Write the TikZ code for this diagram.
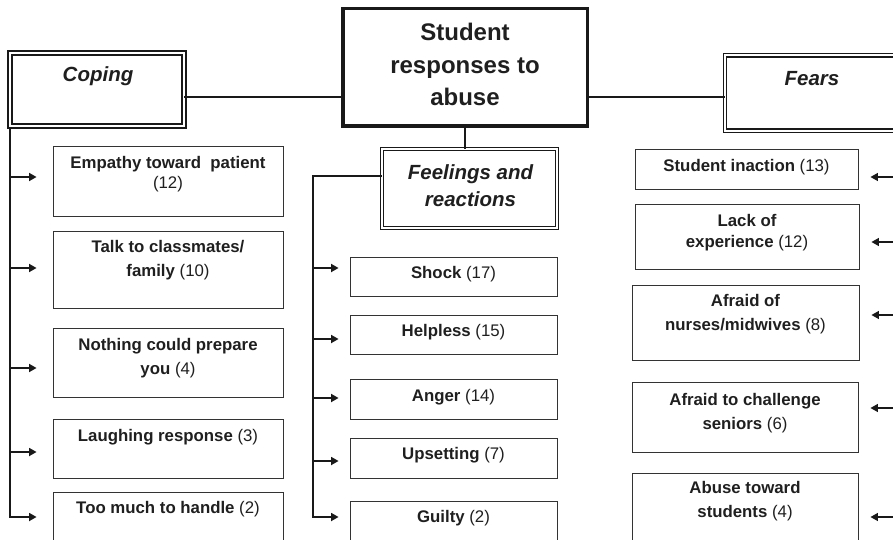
\documentclass[tikz,border=0pt]{standalone}
\usepackage{fontspec}
\setmainfont{Liberation Sans}
\usetikzlibrary{arrows.meta}

\newcommand{\cnt}[1]{{\mdseries(#1)}}

\tikzset{
  catbox/.style={draw=black!80, line width=0.9pt, inner sep=0pt},
  cattext/.style={font=\bfseries\fontsize{16.8}{24}\selectfont, align=center, text=black!88, inner sep=0pt},
  mainbox/.style={draw=black!90, line width=3.5pt, inner sep=0pt},
  maintext/.style={font=\bfseries\fontsize{24}{32.5}\selectfont, align=center, text=black!88, inner sep=0pt},
  themebox/.style={draw=black!90, double, double distance=2.5pt, line width=1.6pt, inner sep=0pt},
  themetext/.style={font=\bfseries\itshape\fontsize{20.5}{27}\selectfont, align=center, text=black!88, inner sep=0pt},
  conn/.style={line width=1.7pt, draw=black!90, line cap=rect},
  arr/.style={conn, -{Triangle[length=7.5pt,width=8pt]}},
}

\begin{document}
\begin{tikzpicture}[x=1pt, y=-1pt]
\useasboundingbox (0,0) rectangle (893,540);
\clip (0,0) rectangle (893,540);

% central node and the three themes
\node[mainbox, minimum width=244.5pt, minimum height=117.5pt] (central) at (465,67.5) {};
\node[maintext] (central-t) at (465,64.5) {Student\\responses to\\abuse};

\node[themebox, minimum width=174pt, minimum height=73pt] (coping) at (97,89.5) {};
\node[themetext] (coping-t) at (98,76) {Coping};

\node[themebox, line width=0.9pt, double distance=2pt, minimum width=175pt, minimum height=79pt] (feelings) at (469.5,188.5) {};
\node[themetext] (feelings-t) at (470.5,186) {Feelings and\\reactions};

\node[themebox, line width=1.3pt, double distance=2pt, minimum width=174pt, minimum height=75.4pt] (fears) at (812,93) {};
\node[themetext] (fears-t) at (812,79) {Fears};

% coping
\node[catbox, minimum width=230pt, minimum height=70pt] (emp) at (168,181) {};
\node[catbox, minimum width=230pt, minimum height=77pt] (talk) at (168,269.5) {};
\node[catbox, minimum width=230pt, minimum height=69pt] (noth) at (168,362.5) {};
\node[catbox, minimum width=230pt, minimum height=59pt] (laugh) at (168,448.5) {};
\node[catbox, minimum width=230pt, minimum height=78pt] (much) at (168,531) {};
\node[cattext] (emp-t) at (168,174.5) {Empathy toward~ patient\\[-4pt]\cnt{12}};
\node[cattext] (talk-t) at (168,260.5) {Talk to classmates/\\family \cnt{10}};
\node[cattext] (noth-t) at (168,358) {Nothing could prepare\\you \cnt{4}};
\node[cattext] (laugh-t) at (168,437) {Laughing response \cnt{3}};
\node[cattext] (much-t) at (168,509) {Too much to handle \cnt{2}};

% feelings and reactions
\node[catbox, minimum width=207pt, minimum height=39pt] (shock) at (453.5,276.5) {};
\node[catbox, minimum width=207pt, minimum height=39pt] (help) at (453.5,334.5) {};
\node[catbox, minimum width=207pt, minimum height=40pt] (anger) at (453.5,399) {};
\node[catbox, minimum width=207pt, minimum height=40pt] (upset) at (453.5,458) {};
\node[catbox, minimum width=207pt, minimum height=59pt] (guilty) at (453.5,530.5) {};
\node[cattext] (shock-t) at (453.5,274) {Shock \cnt{17}};
\node[cattext] (help-t) at (453.5,332) {Helpless \cnt{15}};
\node[cattext] (anger-t) at (453.5,397) {Anger \cnt{14}};
\node[cattext] (upset-t) at (453.5,455) {Upsetting \cnt{7}};
\node[cattext] (guilty-t) at (453.5,518) {Guilty \cnt{2}};

% fears
\node[catbox, minimum width=223pt, minimum height=40pt] (inact) at (746.5,169) {};
\node[catbox, minimum width=224pt, minimum height=65pt] (lack) at (747,236.5) {};
\node[catbox, minimum width=227pt, minimum height=75pt] (nurse) at (745.5,322.5) {};
\node[catbox, minimum width=226pt, minimum height=70pt] (chall) at (745,417) {};
\node[catbox, minimum width=226pt, minimum height=87pt] (abuse) at (745,516.5) {};
\node[cattext] (inact-t) at (746.5,167) {Student inaction \cnt{13}};
\node[cattext] (lack-t) at (747,232.5) {Lack of\\[-3pt]experience \cnt{12}};
\node[cattext] (nurse-t) at (745.5,314.5) {Afraid of\\nurses/midwives \cnt{8}};
\node[cattext] (chall-t) at (745,413) {Afraid to challenge\\seniors \cnt{6}};
\node[cattext] (abuse-t) at (745,501) {Abuse toward\\students \cnt{4}};

% connectors
\draw[conn] (coping.east |- 0,97) -- (central.west |- 0,97);
\draw[conn] (central.east |- 0,97) -- (fears.west |- 0,97);
\draw[conn] (central.south) -- (central.south |- feelings.north);

\coordinate (copTrunk) at (10,129);
\coordinate (felTrunk) at (313,176);
\coordinate (fearTrunk) at (905,133);
\draw[conn] (copTrunk) -- (copTrunk |- 0,517);
\draw[conn] (feelings.west |- felTrunk) -- (felTrunk) -- (felTrunk |- 0,517);

\foreach \b/\y in {emp/177, talk/268, noth/368, laugh/452, much/517}
    \draw[arr, shorten >=16pt] (copTrunk |- 0,\y) -- (\b.west |- 0,\y);
\foreach \b/\y in {shock/268, help/339, anger/398, upset/461, guilty/517}
    \draw[arr, shorten >=11pt] (felTrunk |- 0,\y) -- (\b.west |- 0,\y);
\foreach \b/\y in {inact/177, lack/242, nurse/315, chall/408, abuse/517}
    \draw[arr, line width=1.4pt, shorten >=12pt] (fearTrunk |- 0,\y) -- (\b.east |- 0,\y);
\end{tikzpicture}
\end{document}
